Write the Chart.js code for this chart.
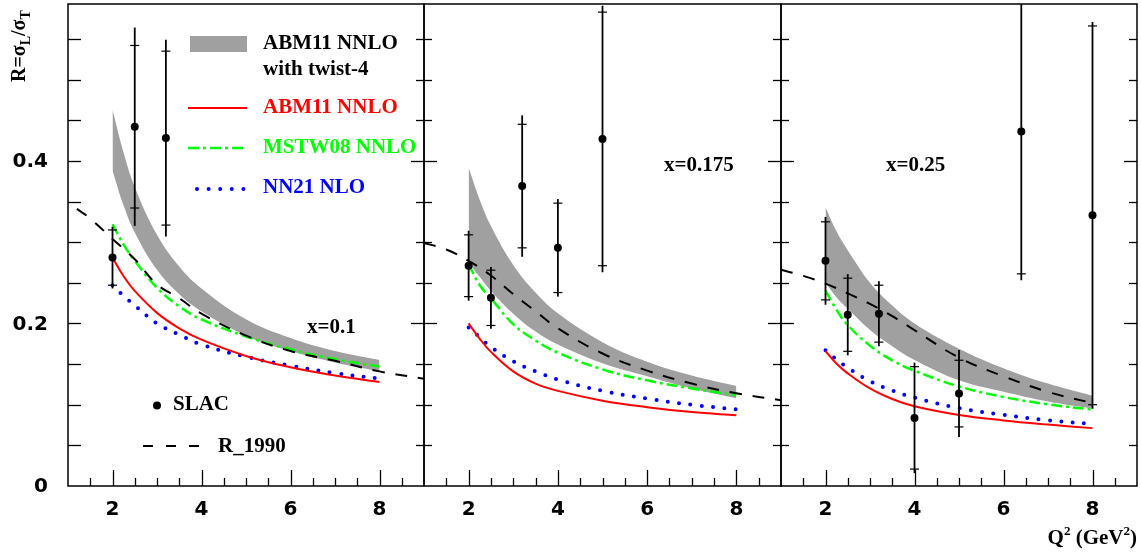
<!DOCTYPE html>
<html>
<head>
<meta charset="utf-8">
<script src="https://cdn.jsdelivr.net/npm/chart.js@4.4.0/dist/chart.umd.min.js"></script>
<style>
  html, body { margin: 0; padding: 0; background: #fff; }
  #wrap { position: relative; width: 1141px; height: 554px; }
  canvas { position: absolute; left: 0; top: 0; }
</style>
</head>
<body>
<div id="wrap">
  <canvas id="p1" width="1141" height="554"></canvas>
  <canvas id="p2" width="1141" height="554"></canvas>
  <canvas id="p3" width="1141" height="554"></canvas>
</div>
<script>
var qCurve = [2, 2.25, 2.5, 3, 3.5, 4, 5, 6, 7, 8];

// ---- x = 0.1 ----
var bandTop1 = [0.463, 0.410, 0.368, 0.309, 0.270, 0.243, 0.205, 0.182, 0.166, 0.155];
var bandBot1 = [0.388, 0.345, 0.312, 0.266, 0.236, 0.215, 0.185, 0.166, 0.152, 0.141];
var abm1  = [0.281, 0.258, 0.240, 0.213, 0.194, 0.180, 0.160, 0.146, 0.136, 0.128];
var mstw1 = [0.322, 0.297, 0.277, 0.244, 0.221, 0.205, 0.184, 0.168, 0.156, 0.147];
var nn1   = [0.247, 0.234, 0.222, 0.200, 0.186, 0.174, 0.159, 0.148, 0.139, 0.132];
var qR1   = [1.2, 1.5, 2, 2.5, 3, 3.5, 4, 5, 6, 7, 8, 9];
var r1990_1 = [0.341, 0.329, 0.304, 0.279, 0.248, 0.231, 0.212, 0.185, 0.166, 0.154, 0.141, 0.132];
var slacQ1 = [2, 2.5, 3.2];
var slacR1 = [0.281, 0.442, 0.428];
var slacStat1 = [0.034, 0.100, 0.107];
var slacTot1  = [0.038, 0.122, 0.121];

// ---- x = 0.175 ----
var bandTop2 = [0.392, 0.352, 0.320, 0.272, 0.238, 0.2125, 0.177, 0.153, 0.136, 0.123];
var bandBot2 = [0.275, 0.257, 0.240, 0.212, 0.190, 0.174, 0.151, 0.135, 0.120, 0.108];
var abm2  = [0.200, 0.181, 0.165, 0.141, 0.126, 0.117, 0.105, 0.097, 0.091, 0.087];
var mstw2 = [0.273, 0.247, 0.231, 0.199, 0.179, 0.164, 0.1435, 0.130, 0.120, 0.1117];
var nn2   = [0.195, 0.183, 0.171, 0.1535, 0.141, 0.131, 0.117, 0.1075, 0.100, 0.0943];
var qR2   = [1, 1.5, 2, 2.5, 3, 3.5, 4, 5, 6, 7, 8, 9];
var r1990_2 = [0.299, 0.291, 0.277, 0.259, 0.236, 0.215, 0.194, 0.163, 0.142, 0.126, 0.114, 0.1055];
var slacQ2 = [2, 2.5, 3.2, 4, 5];
var slacR2 = [0.271, 0.2315, 0.369, 0.293, 0.427];
var slacStat2 = [0.038, 0.034, 0.076, 0.055, 0.156];
var slacTot2  = [0.043, 0.038, 0.087, 0.060, 0.164];

// ---- x = 0.25 ----
var bandTop3 = [0.343, 0.313, 0.290, 0.250, 0.222, 0.200, 0.169, 0.145, 0.126, 0.111];
var bandBot3 = [0.250, 0.232, 0.218, 0.192, 0.172, 0.155, 0.130, 0.116, 0.104, 0.0955];
var abm3  = [0.166, 0.1505, 0.1386, 0.120, 0.107, 0.098, 0.0873, 0.0807, 0.0756, 0.0712];
var mstw3 = [0.2405, 0.2165, 0.198, 0.1726, 0.1546, 0.1418, 0.1225, 0.1095, 0.1005, 0.094];
var nn3   = [0.167, 0.1557, 0.1454, 0.1289, 0.1175, 0.1087, 0.0959, 0.0875, 0.0808, 0.0762];
var qR3   = [1, 1.5, 2, 2.5, 3, 3.5, 4, 5, 6, 7, 8];
var r1990_3 = [0.266, 0.2585, 0.249, 0.237, 0.224, 0.209, 0.1917, 0.158, 0.135, 0.1158, 0.102];
var slacQ3 = [2, 2.5, 3.2, 4, 5, 6.4, 8];
var slacR3 = [0.277, 0.2107, 0.212, 0.0838, 0.1137, 0.436, 0.333];
var slacStat3 = [0.048, 0.045, 0.035, 0.063, 0.041, 0.175, 0.233];
var slacTot3  = [0.054, 0.050, 0.040, 0.068, 0.0535, 0.183, 0.238];

// axes
var xTickLabels = [2, 4, 6, 8];
var yTickValues = [0, 0.2, 0.4];
var yTickText = ['0', '0.2', '0.4'];
var panelLabels = ['x=0.1', 'x=0.175', 'x=0.25'];

var RED = '#ff0000', GREEN = '#00ff00', BLUE = '#0000ff', GREY = '#a0a0a0';
var SERIF = '"Liberation Serif", "Times New Roman", serif';
var SANS = '"DejaVu Sans", sans-serif';

function pts(xs, ys) {
  return xs.map(function (x, i) { return { x: x, y: ys[i] }; });
}

var panels = [
  { id: 'p1', left: 68, right: 424, top: bandTop1, bot: bandBot1, abm: abm1, mstw: mstw1, nn: nn1,
    qR: qR1, r: r1990_1, sq: slacQ1, sr: slacR1, st: slacStat1, se: slacTot1, label: [307, 328] },
  { id: 'p2', left: 424, right: 781, top: bandTop2, bot: bandBot2, abm: abm2, mstw: mstw2, nn: nn2,
    qR: qR2, r: r1990_2, sq: slacQ2, sr: slacR2, st: slacStat2, se: slacTot2, label: [664, 166] },
  { id: 'p3', left: 781, right: 1137, top: bandTop3, bot: bandBot3, abm: abm3, mstw: mstw3, nn: nn3,
    qR: qR3, r: r1990_3, sq: slacQ3, sr: slacR3, st: slacStat3, se: slacTot3, label: [886, 166] }
];

function seg(ctx, x1, y1, x2, y2) {
  ctx.beginPath(); ctx.moveTo(x1, y1); ctx.lineTo(x2, y2); ctx.stroke();
}

// error bars: full line to total error, small caps at the statistical error
var errorBars = {
  id: 'errorBars',
  afterDatasetsDraw: function (chart) {
    var p = chart.options.plugins.errorBars.panel;
    var ctx = chart.ctx, a = chart.chartArea, xs = chart.scales.x, ys = chart.scales.y;
    ctx.save();
    ctx.beginPath(); ctx.rect(a.left, a.top, a.right - a.left, a.bottom - a.top); ctx.clip();
    ctx.strokeStyle = '#000';
    p.sq.forEach(function (q, i) {
      var x = xs.getPixelForValue(q);
      ctx.lineWidth = 1.8;
      seg(ctx, x, ys.getPixelForValue(p.sr[i] - p.se[i]), x, ys.getPixelForValue(p.sr[i] + p.se[i]));
      ctx.lineWidth = 1.2;
      [p.sr[i] - p.st[i], p.sr[i] + p.st[i]].forEach(function (v) {
        var y = ys.getPixelForValue(v);
        seg(ctx, x - 4.5, y, x + 4.5, y);
      });
    });
    ctx.restore();
  }
};

function text(ctx, s, x, y, font, color, align) {
  ctx.font = font; ctx.fillStyle = color || '#000';
  ctx.textAlign = align || 'left'; ctx.textBaseline = 'middle';
  ctx.fillText(s, x, y);
}

var frame = {
  id: 'frame',
  afterDraw: function (chart) {
    var p = chart.options.plugins.errorBars.panel;
    var first = p.id === 'p1';
    var ctx = chart.ctx, a = chart.chartArea, xs = chart.scales.x, ys = chart.scales.y;
    ctx.save();
    ctx.strokeStyle = '#000';
    ctx.lineWidth = 1.5;
    ctx.strokeRect(a.left, a.top, a.right - a.left, a.bottom - a.top);
    ctx.lineWidth = 1.3;
    for (var i = 1; i * 0.05 < ys.max; i++) {
      var y = Math.round(ys.getPixelForValue(i * 0.05)) + 0.5;
      var major = i % 4 === 0;
      var lenL = first ? 13 : (major ? 13 : 8);
      seg(ctx, a.left, y, a.left + lenL, y);
      seg(ctx, a.right - (major ? 13 : 8), y, a.right, y);
    }
    for (var k = 3; k < 18; k++) {
      var q = k / 2;
      var x = Math.round(xs.getPixelForValue(q)) + 0.5;
      seg(ctx, x, a.bottom, x, a.bottom - (k % 4 === 0 ? 16 : 8));
    }
    xTickLabels.forEach(function (q) {
      text(ctx, String(q), xs.getPixelForValue(q), 510, 'bold 20px ' + SANS, '#000', 'center');
    });
    var lab = panelLabels[['p1', 'p2', 'p3'].indexOf(p.id)];
    text(ctx, lab, p.label[0], p.label[1], 'bold 21px ' + SERIF);

    if (first) {
      yTickValues.forEach(function (v, j) {
        text(ctx, yTickText[j], 48, ys.getPixelForValue(v) + 1, 'bold 20px ' + SANS, '#000', 'right');
      });
      drawLegend(ctx);
      drawYTitle(ctx);
    }
    if (p.id === 'p3') drawXTitle(ctx);
    ctx.restore();
  }
};

function drawLegend(ctx) {
  var f = 'bold 21px ' + SERIF;
  ctx.fillStyle = GREY; ctx.fillRect(190, 36, 57, 16);
  text(ctx, 'ABM11 NNLO', 263, 44, f);
  text(ctx, 'with twist-4', 263, 70, f);

  ctx.setLineDash([]); ctx.strokeStyle = RED; ctx.lineWidth = 2;
  seg(ctx, 188, 108, 247, 108);
  text(ctx, 'ABM11 NNLO', 263, 108, f, RED);

  ctx.strokeStyle = GREEN; ctx.lineWidth = 2.5; ctx.setLineDash([11, 4, 3, 4]);
  seg(ctx, 188, 148, 247, 148);
  text(ctx, 'MSTW08 NNLO', 263, 148, f, GREEN);

  ctx.setLineDash([]); ctx.fillStyle = BLUE;
  for (var i = 0; i < 5; i++) { ctx.beginPath(); ctx.arc(197 + i * 11.6, 189, 2, 0, Math.PI * 2); ctx.fill(); }
  text(ctx, 'NN21 NLO', 263, 188, f, BLUE);

  ctx.fillStyle = '#000'; ctx.beginPath(); ctx.arc(157, 405.5, 4, 0, Math.PI * 2); ctx.fill();
  text(ctx, 'SLAC', 173, 405, f);

  ctx.strokeStyle = '#000'; ctx.lineWidth = 2; ctx.setLineDash([10, 13]);
  seg(ctx, 143, 446, 203, 446);
  ctx.setLineDash([]);
  text(ctx, 'R_1990', 218, 447, f);
}

function drawYTitle(ctx) {
  ctx.save();
  ctx.translate(25, 82); ctx.rotate(-Math.PI / 2);
  ctx.fillStyle = '#000'; ctx.textAlign = 'left'; ctx.textBaseline = 'alphabetic';
  var big = 'bold 20px ' + SERIF, small = 'bold 14px ' + SERIF;
  var x = 0;
  [['R=\u03c3', big, 0], ['L', small, 5], ['/\u03c3', big, 0], ['T', small, 5]].forEach(function (t) {
    ctx.font = t[1]; ctx.fillText(t[0], x, t[2]); x += ctx.measureText(t[0]).width;
  });
  ctx.restore();
}

function drawXTitle(ctx) {
  var big = 'bold 21px ' + SERIF, small = 'bold 13px ' + SERIF;
  var parts = [['Q', big, 0], ['2', small, -9], [' (GeV', big, 0], ['2', small, -9], [')', big, 0]];
  var w = 0;
  parts.forEach(function (t) { ctx.font = t[1]; w += ctx.measureText(t[0]).width; });
  var x = 1137 - w;
  ctx.fillStyle = '#000'; ctx.textAlign = 'left'; ctx.textBaseline = 'alphabetic';
  parts.forEach(function (t) {
    ctx.font = t[1]; ctx.fillText(t[0], x, 544 + t[2]); x += ctx.measureText(t[0]).width;
  });
}

function curve(data, color, width, dash, cap, order) {
  return {
    data: data, borderColor: color, borderWidth: width, borderDash: dash || [],
    borderCapStyle: cap || 'butt', pointRadius: 0, fill: false,
    tension: 0.4, order: order, clip: 0
  };
}

panels.forEach(function (p) {
  var datasets = [
    { data: pts(qCurve, p.top), borderWidth: 0, borderColor: 'rgba(0,0,0,0)', backgroundColor: GREY,
      pointRadius: 0, fill: '+1', tension: 0.4, order: 10, clip: 0 },
    { data: pts(qCurve, p.bot), borderWidth: 0, borderColor: 'rgba(0,0,0,0)',
      pointRadius: 0, fill: false, tension: 0.4, order: 10, clip: 0 },
    curve(pts(qCurve, p.abm), RED, 2, null, null, 3),
    curve(pts(qCurve, p.mstw), GREEN, 2.5, [11, 4, 3, 4], null, 3),
    curve(pts(qCurve, p.nn), BLUE, 4, [0, 11.4], 'round', 3),
    curve(pts(p.qR, p.r), '#000', 2, [12, 11], null, 2),
    { data: pts(p.sq, p.sr), showLine: false, pointRadius: 4, pointBackgroundColor: '#000',
      pointBorderColor: '#000', pointBorderWidth: 0, order: 0, clip: 0 }
  ];
  new Chart(document.getElementById(p.id), {
    type: 'line',
    data: { datasets: datasets },
    options: {
      responsive: false, animation: false, devicePixelRatio: 1,
      layout: { padding: { left: p.left, right: 1141 - p.right, top: 3, bottom: 554 - 486 } },
      scales: {
        x: { type: 'linear', min: 1, max: 9, display: false },
        y: { type: 'linear', min: 0, max: 0.593, display: false }
      },
      plugins: {
        legend: { display: false },
        tooltip: { enabled: false },
        errorBars: { panel: p }
      }
    },
    plugins: [errorBars, frame]
  });
});
</script>
</body>
</html>
